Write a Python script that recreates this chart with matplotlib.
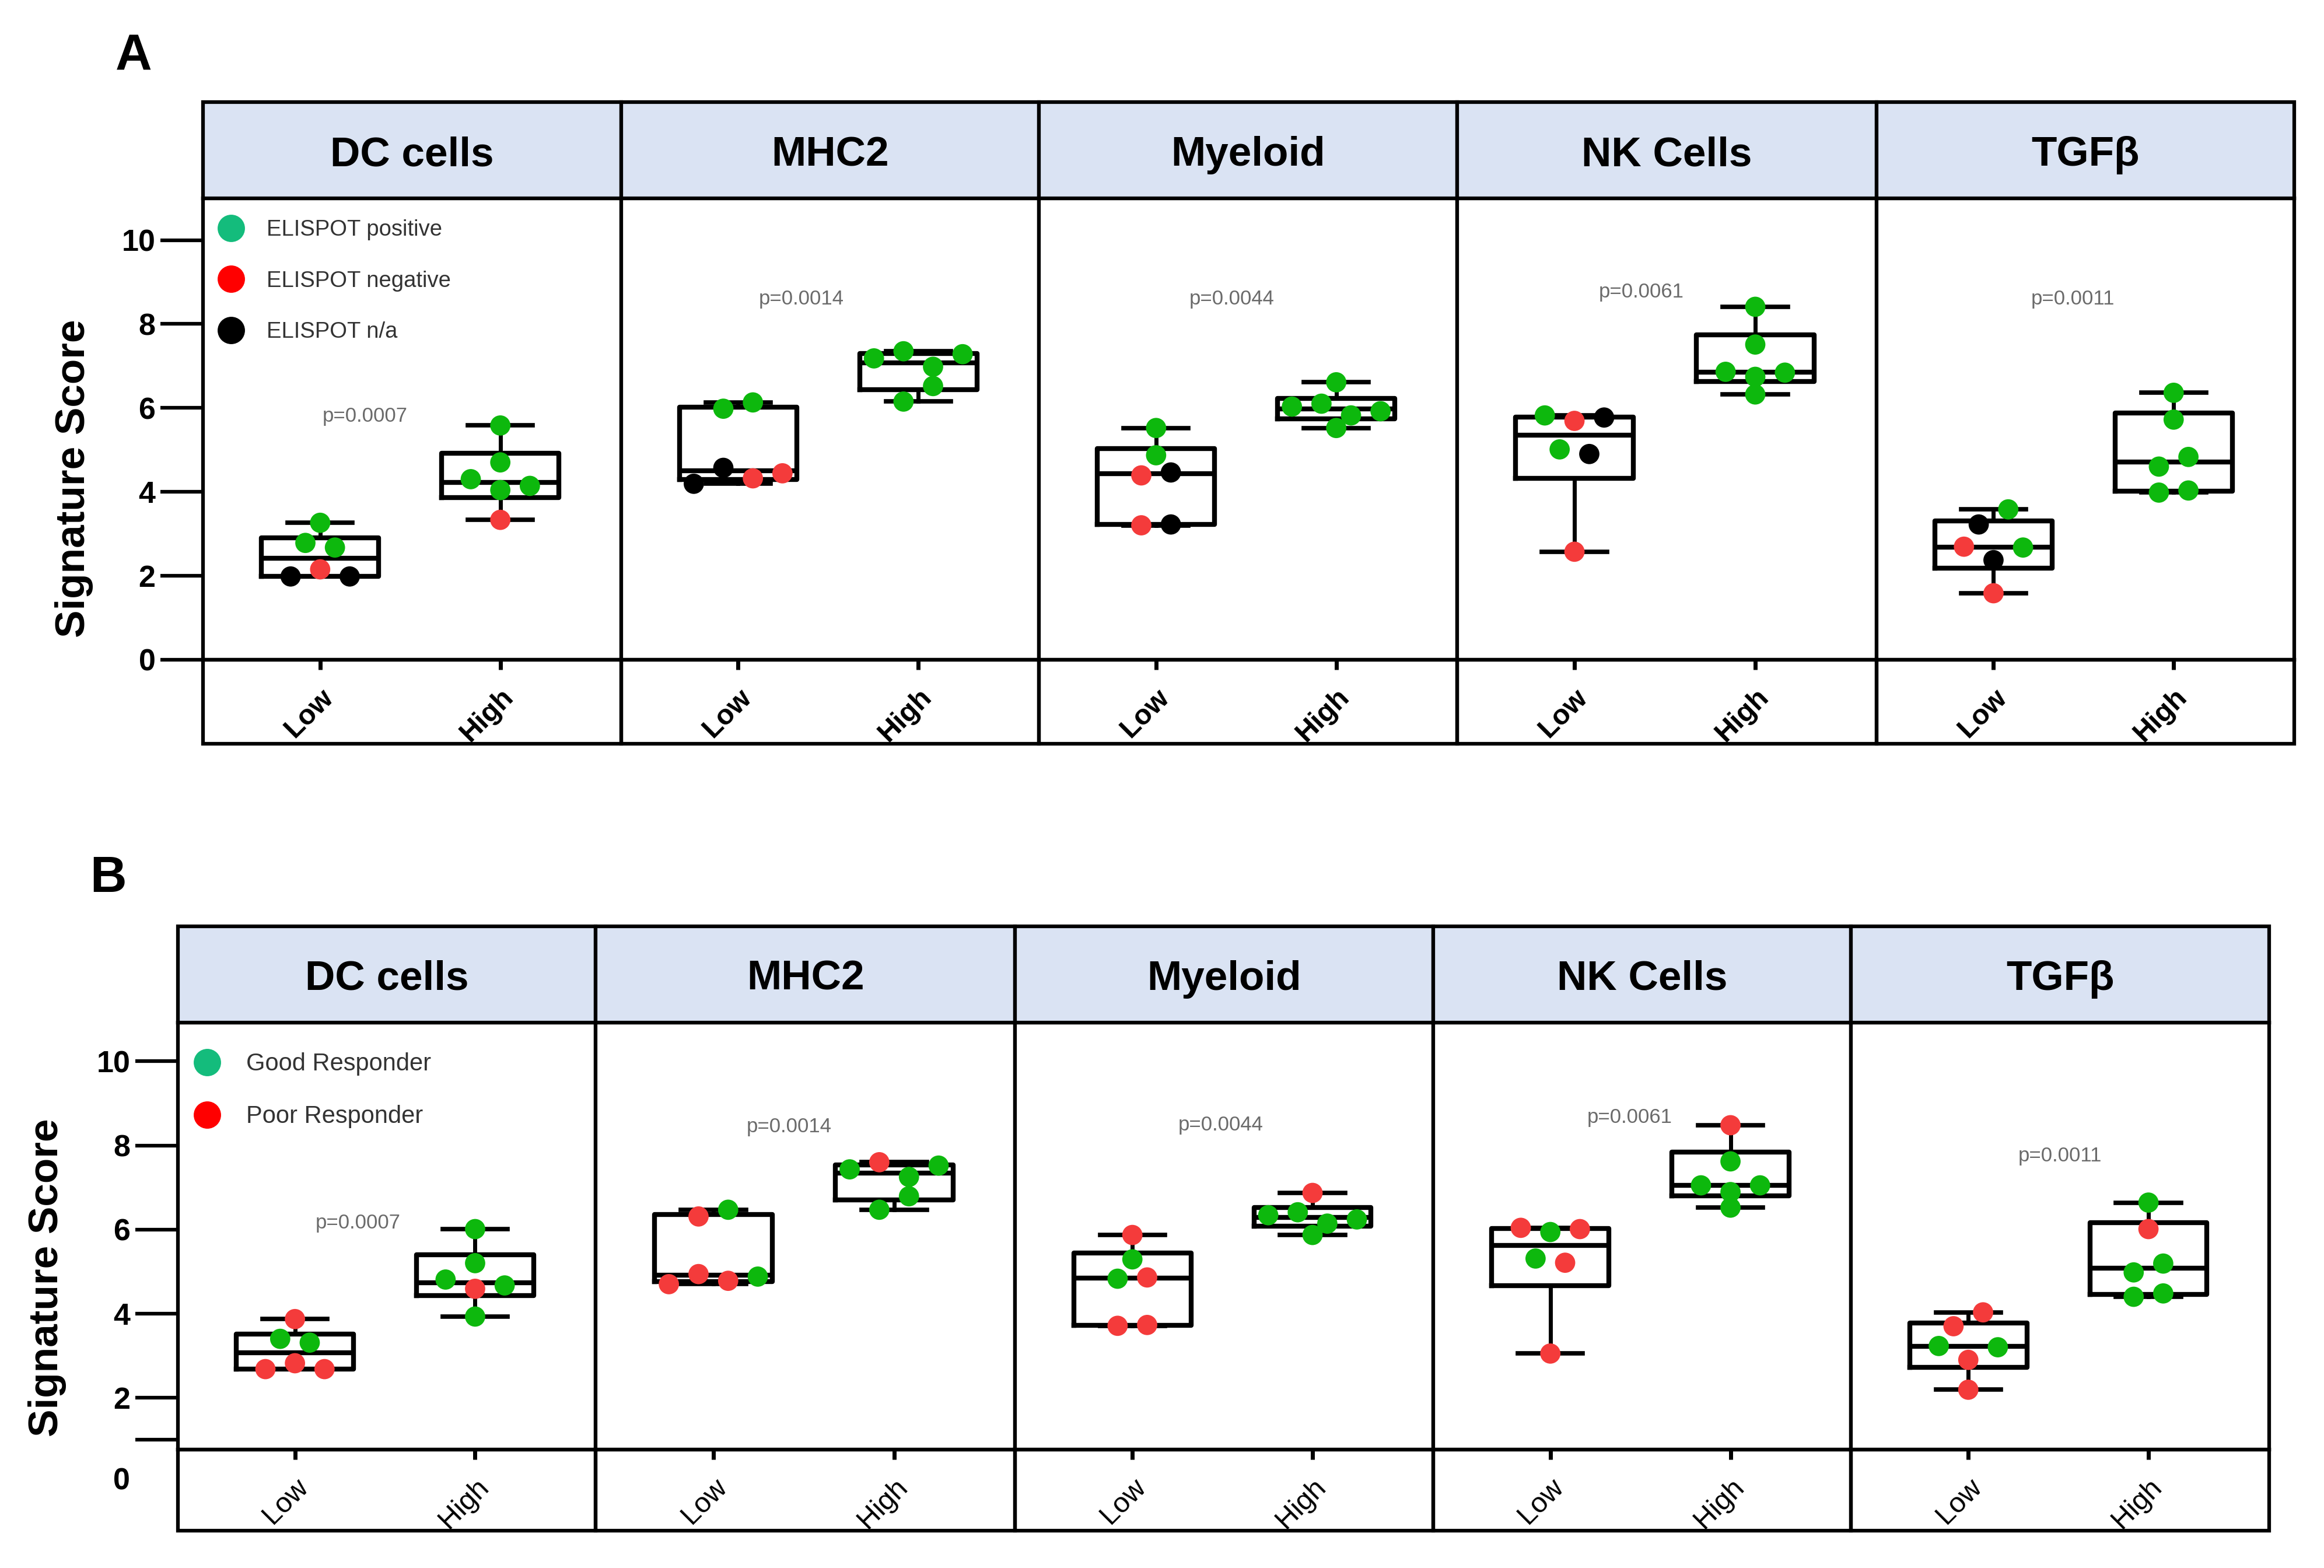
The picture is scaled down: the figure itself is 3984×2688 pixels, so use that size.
import numpy as np
import matplotlib
matplotlib.use('Agg')
import matplotlib.pyplot as plt
from matplotlib.lines import Line2D
from matplotlib.patches import Rectangle
from matplotlib.transforms import ScaledTranslation

plt.rcParams['font.family'] = ['Liberation Sans', 'DejaVu Sans']

signatures = ['DC cells', 'MHC2', 'Myeloid', 'NK Cells', 'TGFβ']
groups = ['Low', 'High']
p_values = ['p=0.0007', 'p=0.0014', 'p=0.0044', 'p=0.0061', 'p=0.0011']

# panel A: ELISPOT status (g = positive, r = negative, k = n/a)
a_low_vals = [
    [3.26, 2.78, 2.67, 1.98, 2.15, 1.98],
    [5.98, 6.13, 4.19, 4.57, 4.32, 4.44],
    [5.52, 4.87, 4.39, 4.46, 3.20, 3.22],
    [5.82, 5.69, 5.77, 5.01, 4.90, 2.57],
    [3.22, 3.58, 2.69, 2.37, 2.67, 1.58],
]
a_low_cats = [
    ['g', 'g', 'g', 'k', 'r', 'k'],
    ['g', 'g', 'k', 'k', 'r', 'r'],
    ['g', 'g', 'r', 'k', 'r', 'k'],
    ['g', 'r', 'k', 'g', 'k', 'r'],
    ['k', 'g', 'r', 'k', 'g', 'r'],
]
a_high_vals = [
    [5.58, 4.70, 4.30, 4.04, 4.14, 3.33],
    [7.18, 7.35, 6.98, 7.28, 6.15, 6.52],
    [6.61, 6.03, 6.10, 5.82, 5.92, 5.52],
    [8.41, 7.51, 6.86, 6.74, 6.84, 6.32],
    [6.36, 5.72, 4.60, 4.83, 3.98, 4.03],
]
a_high_cats = [
    ['g', 'g', 'g', 'g', 'g', 'r'],
    ['g', 'g', 'g', 'g', 'g', 'g'],
    ['g', 'g', 'g', 'g', 'g', 'g'],
    ['g', 'g', 'g', 'g', 'g', 'g'],
    ['g', 'g', 'g', 'g', 'g', 'g'],
]

# panel B: responder status (g = good, r = poor)
b_low_vals = [
    [3.87, 3.40, 3.31, 2.68, 2.82, 2.68],
    [6.31, 6.47, 4.70, 4.94, 4.78, 4.88],
    [5.87, 5.29, 4.83, 4.86, 3.71, 3.73],
    [6.04, 5.94, 6.01, 5.31, 5.21, 3.05],
    [3.70, 4.03, 3.23, 2.90, 3.20, 2.19],
]
b_low_cats = [
    ['r', 'g', 'g', 'r', 'r', 'r'],
    ['r', 'g', 'r', 'r', 'r', 'g'],
    ['r', 'g', 'g', 'r', 'r', 'r'],
    ['r', 'g', 'r', 'g', 'r', 'r'],
    ['r', 'r', 'g', 'r', 'g', 'r'],
]
b_high_vals = [
    [6.01, 5.20, 4.81, 4.59, 4.67, 3.93],
    [7.43, 7.60, 7.25, 7.52, 6.47, 6.79],
    [6.87, 6.34, 6.41, 6.14, 6.24, 5.87],
    [8.48, 7.62, 7.05, 6.89, 7.05, 6.52],
    [6.64, 6.01, 4.98, 5.19, 4.40, 4.48],
]
b_high_cats = [
    ['g', 'g', 'g', 'r', 'g', 'g'],
    ['g', 'r', 'g', 'g', 'g', 'g'],
    ['r', 'g', 'g', 'g', 'g', 'g'],
    ['r', 'g', 'g', 'g', 'g', 'g'],
    ['g', 'r', 'g', 'g', 'g', 'g'],
]

legend_a = ['ELISPOT positive', 'ELISPOT negative', 'ELISPOT n/a']
legend_b = ['Good Responder', 'Poor Responder']

# p-value label anchors (x, y in data units)
p_pos_a = [(0.25, 5.8), (0.35, 8.6), (0.42, 8.6), (0.37, 8.76), (0.44, 8.6)]
p_pos_b = [(0.35, 6.16), (0.42, 8.45), (0.49, 8.49), (0.44, 8.66), (0.51, 7.75)]

dot_colors = {'g': '#0DB80D', 'r': '#F43B3B', 'k': '#000000'}
legend_colors_a = ['#14BC7C', '#FF0000', '#000000']
legend_colors_b = ['#14BC7C', '#FF0000']
header_color = '#DAE3F3'

W, H = 1568.0, 1058.0
fig = plt.figure(figsize=(15.936, 10.752), dpi=250)


def swarm(vals, step=0.164, span=0.385):
    vals = np.asarray(vals)
    order = np.argsort(-vals, kind='stable')
    rows, cur = [], [order[0]]
    for i in order[1:]:
        if vals[cur[0]] - vals[i] < span:
            cur.append(i)
        else:
            rows.append(cur)
            cur = [i]
    rows.append(cur)
    offs = np.zeros(len(vals))
    for r in rows:
        r = sorted(r)
        for j, idx in enumerate(r):
            offs[idx] = (j - (len(r) - 1) / 2) * step
    return offs


def box_stats(vals):
    q1, med, q3 = np.percentile(vals, [25, 50, 75], method='weibull')
    return dict(med=med, q1=q1, q3=q3, whislo=min(vals), whishi=max(vals), fliers=[])


def draw_panel(edges, head_top, ax_top, ax_bot, box_bot, ylim, low_vals, low_cats,
               high_vals, high_cats, p_pos, label_weight, legend_labels, legend_cols,
               legend_fs, legend_ls, legend_y, zero_label):
    axes = []
    h_ax = ax_bot - ax_top
    hh = (ax_top - head_top) / h_ax
    bh = (box_bot - ax_bot) / h_ax
    for i, name in enumerate(signatures):
        x0, x1 = edges[i], edges[i + 1]
        ax = fig.add_axes([x0 / W, 1 - ax_bot / H, (x1 - x0) / W, h_ax / H])
        ax.set_xlim(-0.65, 1.67)
        ax.set_ylim(*ylim)
        for sp in ax.spines.values():
            sp.set_linewidth(1.8)
            sp.set_color('black')
        ax.add_patch(Rectangle((0, 1), 1, hh, transform=ax.transAxes, facecolor=header_color,
                               edgecolor='black', lw=1.8, clip_on=False, zorder=5))
        ax.add_patch(Rectangle((0, -bh), 1, bh, transform=ax.transAxes, fill=False,
                               edgecolor='black', lw=1.8, clip_on=False, zorder=5))
        ax.text(0.5, 1 + hh * 0.45, name, transform=ax.transAxes, ha='center', va='center',
                fontsize=20.5, fontweight='bold', zorder=6)

        st = [box_stats(low_vals[i]), box_stats(high_vals[i])]
        ax.bxp(st, positions=[0, 1], widths=0.65, capwidths=0.36, showfliers=False,
               manage_ticks=False,
               boxprops=dict(lw=2.4, color='black'),
               medianprops=dict(lw=2.4, color='black'),
               whiskerprops=dict(lw=2.0, color='black'),
               capprops=dict(lw=2.2, color='black'))
        for pos, vals, cats in [(0, low_vals[i], low_cats[i]), (1, high_vals[i], high_cats[i])]:
            xs = pos + swarm(vals)
            ax.scatter(xs, vals, s=100, c=[dot_colors[c] for c in cats], edgecolors='none',
                       zorder=4, clip_on=False)

        px, py = p_pos[i]
        ax.text(px, py, p_values[i], ha='center', va='center', fontsize=10, color='#6A6A6A')

        ax.set_xticks([0, 1])
        ax.set_xticklabels(groups, rotation=45, ha='right', va='top', rotation_mode='anchor',
                           fontsize=14, fontweight=label_weight)
        ax.tick_params(axis='x', direction='out', length=5, width=2, pad=7)
        if i == 0:
            if zero_label:
                ax.set_yticks([1, 2, 4, 6, 8, 10])
                ax.set_yticklabels(['', '2', '4', '6', '8', '10'])
            else:
                ax.set_yticks([0, 2, 4, 6, 8, 10])
            ax.tick_params(axis='y', direction='out', length=21, width=1.8, pad=2.5,
                           labelsize=15)
            for lbl in ax.get_yticklabels():
                lbl.set_fontweight('bold')
            if zero_label:
                tr = ax.get_yaxis_transform() + ScaledTranslation(-23.5 / 72, 0, fig.dpi_scale_trans)
                ax.text(0, 0, '0', transform=tr, ha='right', va='center', fontsize=15,
                        fontweight='bold', clip_on=False)
            handles = [Line2D([], [], marker='o', ls='', color=c, markersize=12.5)
                       for c in legend_cols]
            ax.legend(handles, legend_labels, loc='upper left', bbox_to_anchor=(0.035, legend_y),
                      frameon=False, fontsize=legend_fs, labelspacing=legend_ls,
                      handlelength=1.2, handletextpad=1.0, borderpad=0, borderaxespad=0,
                      labelcolor='#333333')
        else:
            ax.tick_params(axis='y', left=False, labelleft=False)
        axes.append(ax)
    return axes


draw_panel([137, 419, 701, 983, 1266, 1548], 69, 134, 445, 502, (0, 10.99),
           a_low_vals, a_low_cats, a_high_vals, a_high_cats, p_pos_a, 'bold',
           legend_a, legend_colors_a, 11, 1.35, 0.955, False)
draw_panel([120, 402, 685, 967, 1249, 1531], 625, 690, 978, 1033, (0.77, 10.92),
           b_low_vals, b_low_cats, b_high_vals, b_high_cats, p_pos_b, 'normal',
           legend_b, legend_colors_b, 12, 1.2, 0.93, True)

fig.text(50 / W, 1 - 323 / H, 'Signature Score', rotation=90, ha='center', va='center',
         fontsize=20.5, fontweight='bold')
fig.text(32 / W, 1 - 862 / H, 'Signature Score', rotation=90, ha='center', va='center',
         fontsize=20.5, fontweight='bold')
fig.text(90 / W, 1 - 38 / H, 'A', ha='center', va='center', fontsize=25, fontweight='bold')
fig.text(73 / W, 1 - 593 / H, 'B', ha='center', va='center', fontsize=25, fontweight='bold')

fig.savefig('out.png', dpi=250, facecolor='white')
